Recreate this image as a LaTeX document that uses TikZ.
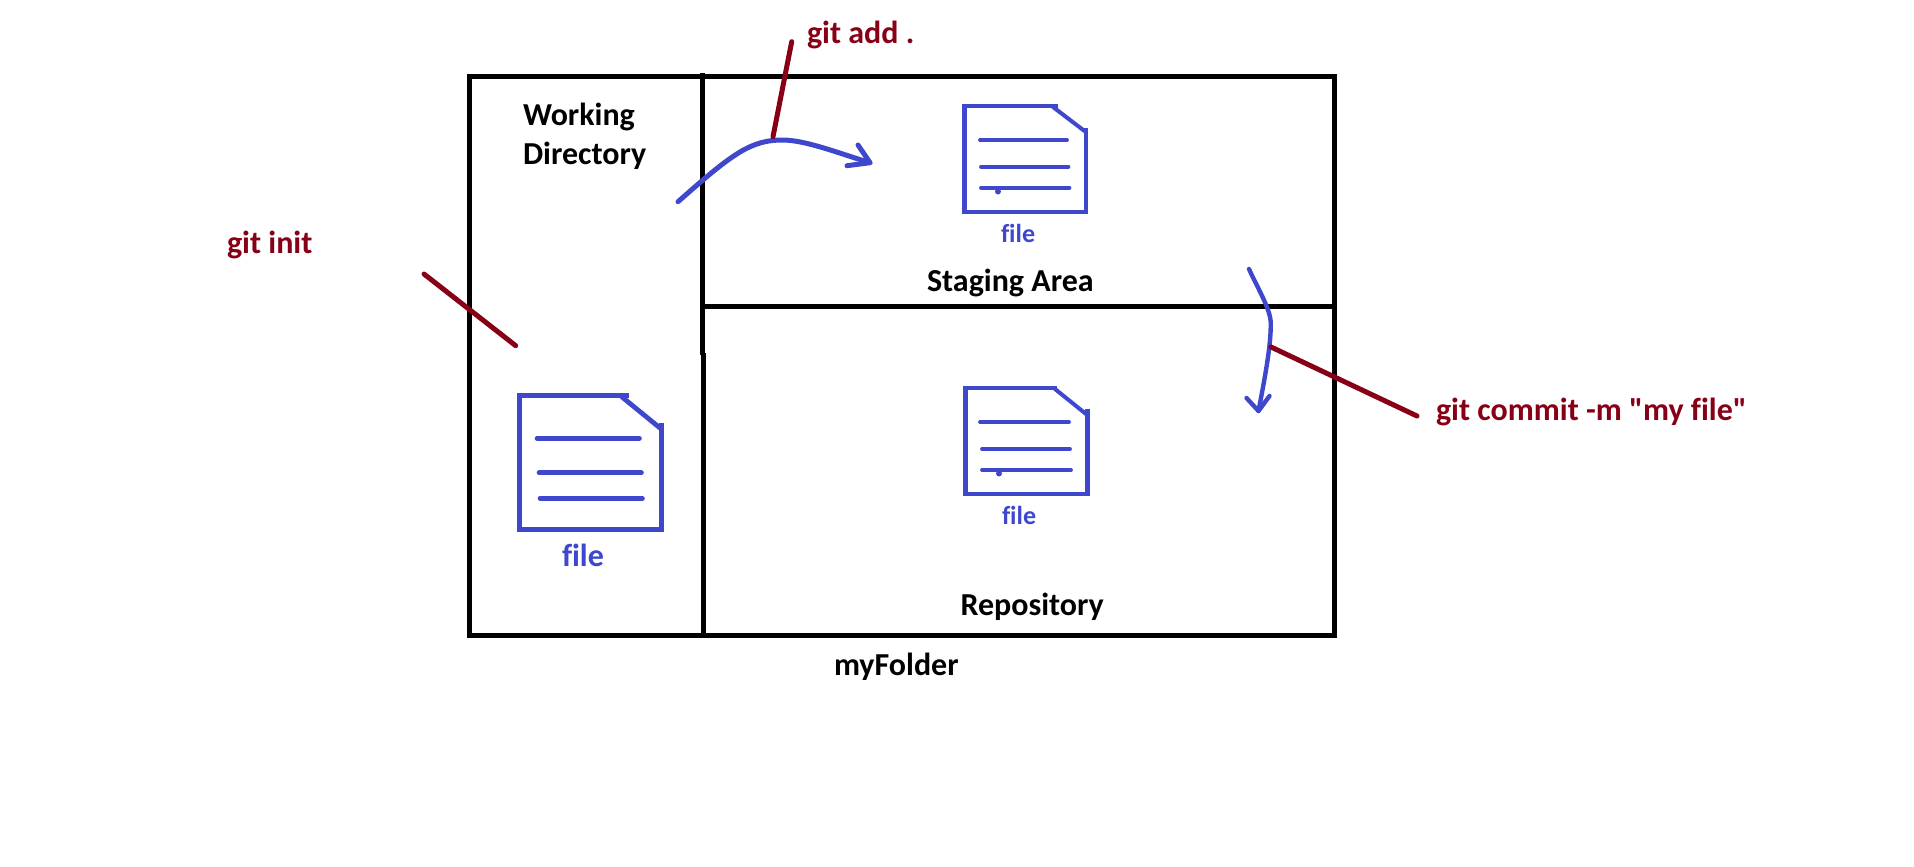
\documentclass[tikz,border=0pt]{standalone}
\usepackage{fontspec}
\newfontfamily\lblfont{Carlito}[Ligatures=NoCommon]
\definecolor{inkblue}{HTML}{3F48CC}
\definecolor{inkred}{HTML}{880015}
\tikzset{
  frameline/.style={draw=black,line width=5pt,line cap=butt,line join=miter},
  redline/.style={draw=inkred,line width=5pt,line cap=round},
  blueline/.style={draw=inkblue,line width=5pt,line cap=round,line join=round},
  docline/.style={draw=inkblue,line width=5pt,line cap=butt,line join=miter},
  rowline/.style={draw=inkblue,line width=4.6pt,line cap=round},
  smallrow/.style={draw=inkblue,line width=3.8pt,line cap=round},
  lbl/.style={anchor=base west,inner sep=0pt,outer sep=0pt,font=\lblfont\bfseries\fontsize{32}{36}\selectfont},
  redlbl/.style={lbl,text=inkred},
  bigfile/.style={lbl,text=inkblue},
  smallfile/.style={lbl,text=inkblue,font=\lblfont\bfseries\fontsize{26}{30}\selectfont}
}
\begin{document}
\begin{tikzpicture}[x=1pt,y=-1pt]
\useasboundingbox (0,0) rectangle (1914,867);
% text
\node[lbl] (wd1) at (523,125.5) {Working};
\node[lbl] (wd2) at (523,164) {Directory};
\node[lbl] (staging) at (927,291) {Staging Area};
\node[lbl] (repo) at (960.5,615) {Repository};
\node[lbl] (folder) at (834,675) {myFolder};
\node[redlbl] (addlbl) at (807,43.5) {git add .};
\node[redlbl] (initlbl) at (227,253) {git init};
\node[redlbl] (commitlbl) at (1436,420) {git commit -m "my file"};
\node[bigfile] (file0) at (562,566.5) {file};
\node[smallfile] (file1) at (1001,242) {file};
\node[smallfile] (file2) at (1002,524) {file};
% free ends
\coordinate (addA) at (791.7,41.7);
\coordinate (addB) at (773,136.7);
\coordinate (initA) at (424,274);
\coordinate (initB) at (515.7,345.7);
\coordinate (comA) at (1271,347);
\coordinate (comB) at (1417,416);
\coordinate (a1s) at (678,201.7);
\coordinate (a1e) at (870,162.7);
\coordinate (a2s) at (1249,269);
\coordinate (a2e) at (1258.5,411);
% frame
\draw[frameline] (469.5,76.7) rectangle (1334.7,635.5);
\draw[frameline] (702.5,73) -- (702.5,355);
\draw[frameline] (703.5,353) -- (703.5,633.5);
\draw[frameline] (703,306) -- (1334,306);
% blue arrows
\draw[blueline] (a1s) .. controls (705,178) and (722,163) .. (740,152)
  .. controls (755,143) and (768,140) .. (782,140)
  .. controls (805,140) and (835,152) .. (a1e);
\draw[blueline] (858,145) -- (a1e) -- (847,165.7);
\draw[blueline,line width=4.4pt] (a2s) .. controls (1256,285) and (1270,308) .. (1270.7,322)
  .. controls (1271.4,345) and (1264,382) .. (a2e);
\draw[blueline,line width=4.4pt] (1246.5,398) -- (a2e) -- (1269.5,396);
% red leaders
\draw[redline] (addA) -- (addB);
\draw[redline] (initA) -- (initB);
\draw[redline] (comA) -- (comB);
% large document
\draw[docline] (629,395.3) -- (519.3,395.3) -- (519.3,529) -- (661.7,529) -- (661.7,423);
\draw[blueline,line width=4.8pt] (622,397) -- (660,428);
\draw[rowline] (537,438.3) -- (639.5,438.3);
\draw[rowline] (539,472.7) -- (641.5,472.7);
\draw[rowline] (540,498.3) -- (642.5,498.3);
% staging document
\draw[docline,line width=4.4pt] (1057.7,106) -- (964.3,106) -- (964.3,211.7) -- (1085.7,211.7) -- (1085.7,127.7);
\draw[blueline,line width=4pt] (1053,107) -- (1084.5,131);
\draw[smallrow] (980,140) -- (1067,140);
\draw[smallrow] (981,166.7) -- (1068.5,166.7);
\draw[smallrow] (981,187.7) -- (1069.5,187.7);
\fill[inkblue] (998,191.5) circle (3pt);
% repository document
\draw[docline,line width=4.4pt] (1057,388) -- (965.5,388) -- (965.5,494) -- (1087.5,494) -- (1087.5,409);
\draw[blueline,line width=4pt] (1055,389) -- (1086,414);
\draw[smallrow] (980,422) -- (1069,422);
\draw[smallrow] (982,449) -- (1070,449);
\draw[smallrow] (982,470) -- (1071,470);
\fill[inkblue] (999,473.5) circle (3pt);
\end{tikzpicture}
\end{document}
